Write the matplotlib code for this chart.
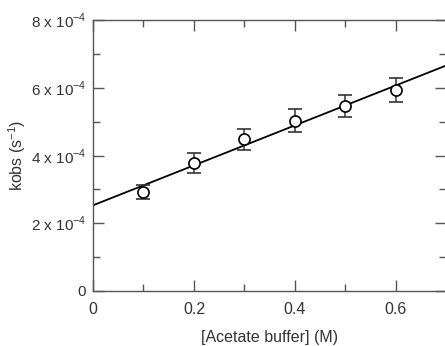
import matplotlib
matplotlib.use("Agg")
import matplotlib.pyplot as plt
import numpy as np
from matplotlib.ticker import MultipleLocator, FixedLocator

plt.rcParams['font.family'] = ['Liberation Sans', 'DejaVu Sans']
plt.rcParams['mathtext.fontset'] = 'custom'
plt.rcParams['mathtext.rm'] = 'Liberation Sans'

# data
conc = [0.1, 0.2, 0.3, 0.4, 0.5, 0.6]
kobs = [2.93e-4, 3.77e-4, 4.48e-4, 5.03e-4, 5.46e-4, 5.93e-4]
kerr = [2.1e-5, 2.9e-5, 3.1e-5, 3.4e-5, 3.3e-5, 3.5e-5]
fit_intercept = 2.53e-4
fit_slope = 5.9e-4

ytick_vals = [0, 2e-4, 4e-4, 6e-4, 8e-4]
ytick_labels = ['0', r'2 x 10$^{\mathregular{-4}}$', r'4 x 10$^{\mathregular{-4}}$',
                r'6 x 10$^{\mathregular{-4}}$', r'8 x 10$^{\mathregular{-4}}$']

txt = '#333333'
fig = plt.figure(figsize=(4.45, 3.46), dpi=100)
ax = fig.add_axes([0.209, 0.159, 0.794, 0.783])

xfit = np.array([0, 0.7])
ax.plot(xfit, fit_intercept + fit_slope * xfit, color='black', lw=1.3, zorder=2)
ax.errorbar(conc, kobs, yerr=kerr, fmt='o', mfc='white', mec='black', mew=1.2,
            ms=8, ecolor='#333333', elinewidth=1.1, capsize=5, capthick=1.1, zorder=3)

ax.set_xlim(0, 0.7)
ax.set_ylim(0, 8e-4)
ax.xaxis.set_major_locator(FixedLocator([0, 0.2, 0.4, 0.6]))
ax.xaxis.set_minor_locator(MultipleLocator(0.1))
ax.set_xticklabels(['0', '0.2', '0.4', '0.6'])
ax.yaxis.set_major_locator(FixedLocator(ytick_vals))
ax.yaxis.set_minor_locator(MultipleLocator(1e-4))
ax.set_yticklabels(ytick_labels)

ax.tick_params(which='both', direction='in', top=True, right=True, colors='#555555',
               labelcolor=txt, labelsize=11.5, width=1.0)
ax.tick_params(axis='y', labelsize=11)
ax.tick_params(which='major', length=8)
ax.tick_params(axis='x', which='major', pad=8)
ax.tick_params(axis='y', which='major', pad=5)
ax.tick_params(which='minor', length=5)
for s in ax.spines.values():
    s.set_color('#555555')
    s.set_linewidth(1.0)

ax.set_xlabel('[Acetate buffer] (M)', fontsize=11.5, color=txt, labelpad=9)
ax.set_ylabel(r'kobs (s$^{\mathregular{-1}}$)', fontsize=11.5, color=txt)
ax.yaxis.set_label_coords(-0.185, 0.5)

fig.savefig('out.png', dpi=100)
